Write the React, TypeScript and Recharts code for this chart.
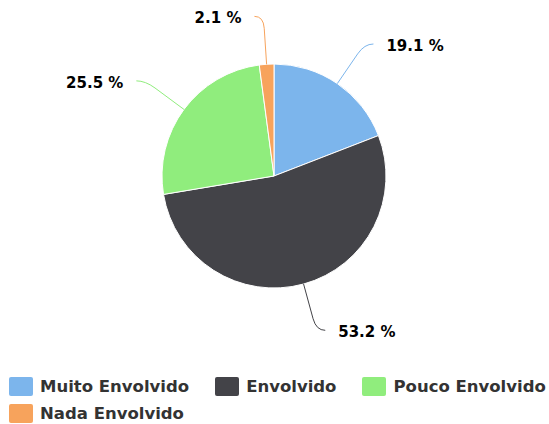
import React from 'react';
import { PieChart, Pie, Cell, Legend } from 'recharts';

const categories = ['Muito Envolvido', 'Envolvido', 'Pouco Envolvido', 'Nada Envolvido'];
const shares = [19.1, 53.2, 25.5, 2.1];
const colors = ['#7cb5ec', '#434348', '#90ed7d', '#f7a35c'];

const data = categories.map((name, i) => ({ name, value: shares[i] }));

const RADIAN = Math.PI / 180;
const FONT = '"DejaVu Sans", Verdana, sans-serif';

const renderLabel = (props: any) => {
  const { cx, cy, midAngle, outerRadius, index, value } = props;
  const cos = Math.cos(-midAngle * RADIAN);
  const sin = Math.sin(-midAngle * RADIAN);
  const at = (r: number) => [cx + r * cos, cy + r * sin];
  const [x0, y0] = at(outerRadius);
  const [x1, y1] = at(outerRadius + 36);
  const [ex, ey] = at(outerRadius + 48);
  const dir = cos >= 0 ? 1 : -1;
  const path = `M${x0},${y0} L${x1},${y1} Q${ex},${ey} ${ex + dir * 9},${ey}`;
  return (
    <g key={`lbl-${index}`}>
      <path d={path} stroke={colors[index]} strokeWidth={1} fill="none" />
      <text
        x={ex + dir * 22}
        y={ey + 2}
        textAnchor={dir > 0 ? 'start' : 'end'}
        dominantBaseline="central"
        fill="#000000"
        fontFamily={FONT}
        fontWeight="bold"
        fontSize={15}
      >
        {`${value.toFixed(1)} %`}
      </text>
    </g>
  );
};

const renderLegend = (props: any) => {
  // keep the series order, recharts sorts the payload by name
  const items = [...(props.payload || [])].sort(
    (a: any, b: any) => categories.indexOf(a.value) - categories.indexOf(b.value)
  );
  return (
    <div
      style={{
        display: 'flex',
        flexWrap: 'wrap',
        columnGap: 26,
        width: 548,
        fontFamily: FONT,
        fontWeight: 'bold',
        fontSize: 16.5,
        color: '#333333',
      }}
    >
      {items.map((entry: any, i: number) => (
        <div key={`leg-${i}`} style={{ display: 'flex', alignItems: 'center', height: 27 }}>
          <span
            style={{
              display: 'inline-block',
              width: 24,
              height: 19,
              borderRadius: 2,
              background: entry.color,
              marginRight: 7,
            }}
          />
          <span style={{ whiteSpace: 'nowrap' }}>{entry.value}</span>
        </div>
      ))}
    </div>
  );
};

export default function App() {
  return (
    <div style={{ width: 549, height: 424, background: '#ffffff', overflow: 'hidden' }}>
      <style>{'body{margin:0}'}</style>
      <PieChart width={549} height={424} margin={{ top: 0, right: 0, bottom: 0, left: 0 }}>
        <Pie
          data={data}
          dataKey="value"
          nameKey="name"
          cx={274}
          cy={176}
          outerRadius={112}
          startAngle={90}
          endAngle={-270}
          stroke="#ffffff"
          strokeWidth={1}
          label={renderLabel}
          labelLine={false}
          isAnimationActive={false}
        >
          {data.map((d, i) => (
            <Cell key={d.name} fill={colors[i]} />
          ))}
        </Pie>
        <Legend
          content={renderLegend}
          wrapperStyle={{ position: 'absolute', top: 373, left: 9, width: 548 }}
        />
      </PieChart>
    </div>
  );
}
